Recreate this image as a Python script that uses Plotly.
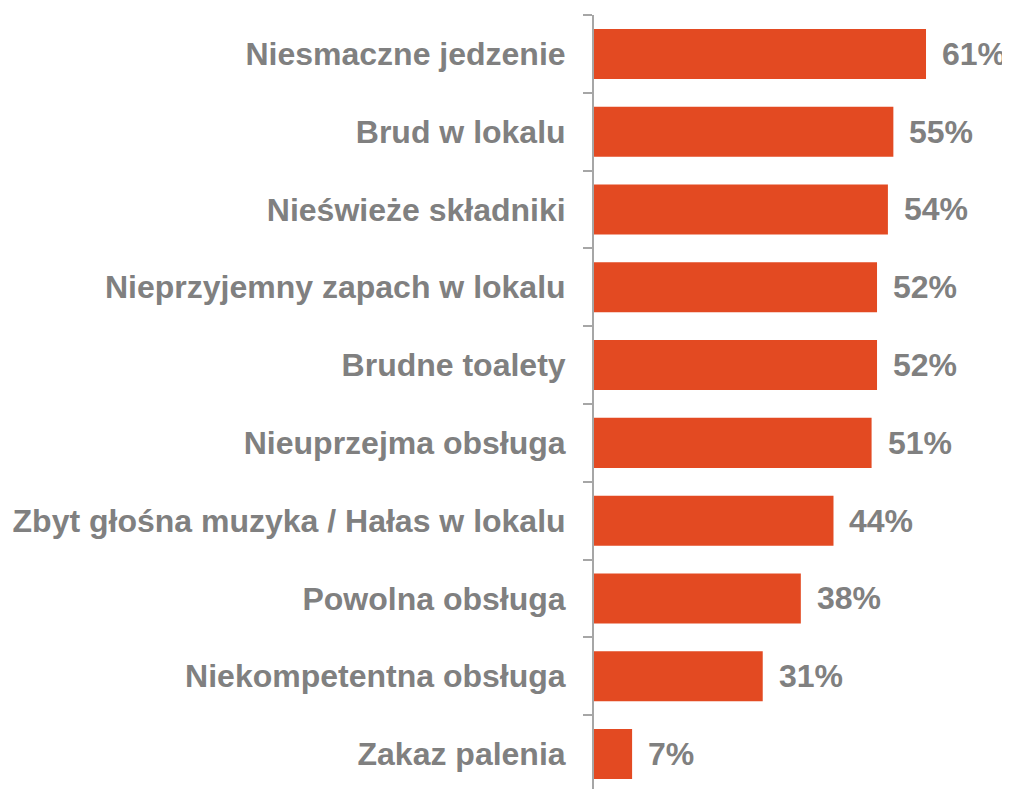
import plotly.graph_objects as go

categories = [
    "Niesmaczne jedzenie",
    "Brud w lokalu",
    "Nieświeże składniki",
    "Nieprzyjemny zapach w lokalu",
    "Brudne toalety",
    "Nieuprzejma obsługa",
    "Zbyt głośna muzyka / Hałas w lokalu",
    "Powolna obsługa",
    "Niekompetentna obsługa",
    "Zakaz palenia",
]
values = [61, 55, 54, 52, 52, 51, 44, 38, 31, 7]
labels = [f"{v}%" for v in values]

BAR = "#E34A22"
GRAY = "#808080"
FONT = "Liberation Sans, Arial, sans-serif"

fig = go.Figure(go.Bar(
    x=values, y=categories, orientation="h",
    marker=dict(color=BAR, line=dict(width=0)),
    hoverinfo="skip",
))

for c, v, t in zip(categories, values, labels):
    fig.add_annotation(x=v, y=c, text=f"<b>{t}</b>", showarrow=False,
                       xanchor="left", yanchor="middle", xshift=14,
                       font=dict(family=FONT, size=32, color=GRAY))

fig.update_layout(
    width=1002, height=781,
    margin=dict(l=586, r=35, t=7, b=0),
    paper_bgcolor="white", plot_bgcolor="white",
    bargap=0.357,
    showlegend=False,
    xaxis=dict(range=[0, 70], visible=False, showgrid=False, zeroline=False),
    yaxis=dict(
        type="category",
        categoryorder="array", categoryarray=categories,
        range=[9.449, -0.5],
        showline=True, linecolor="#A6A6A6", linewidth=2,
        ticks="outside", tickson="boundaries", ticklen=9,
        tickcolor="#A6A6A6", tickwidth=2,
        ticklabelstandoff=20,
        tickfont=dict(family=FONT, size=32, color=GRAY, weight="bold"),
        showgrid=False, zeroline=False,
    ),
)

fig.write_html("out.html")
